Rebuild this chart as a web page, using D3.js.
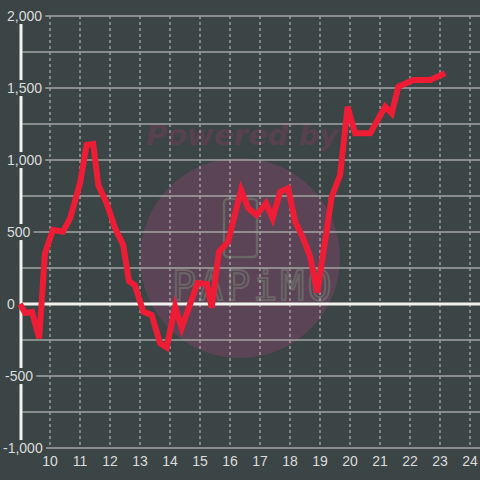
<!DOCTYPE html>
<html>
<head>
<meta charset="utf-8">
<script src="https://cdn.jsdelivr.net/npm/d3@7"></script>
<style>
  html, body { margin: 0; padding: 0; background: #3b4545; }
  svg { display: block; font-family: "Liberation Sans", Arial, sans-serif; }
</style>
</head>
<body>
<div id="chart"></div>
<script>
// hour of day (x) and running value (y)
var hours = [9.0, 9.17, 9.4, 9.64, 9.83, 10.1, 10.43, 10.67, 11.0, 11.22, 11.44, 11.61,
             11.89, 12.17, 12.44, 12.63, 12.83, 13.11, 13.39, 13.67, 13.89, 14.17, 14.39,
             14.92, 15.23, 15.39, 15.63, 15.93, 16.37, 16.61, 16.89, 17.2, 17.42, 17.67,
             17.94, 18.17, 18.44, 18.67, 18.91, 19.39, 19.67, 19.92, 20.17, 20.67, 21.17,
             21.39, 21.61, 22.11, 22.67, 23.17];
var values = [0, -62, -55, -238, 352, 514, 502, 595, 838, 1104, 1111, 826,
              699, 526, 410, 160, 130, -53, -76, -273, -301, -19, -165,
              144, 139, -25, 363, 430, 792, 664, 618, 699, 595, 780,
              803, 572, 456, 329, 80, 745, 896, 1370, 1185, 1185, 1370,
              1324, 1509, 1556, 1556, 1602];
var xTicks = [10, 11, 12, 13, 14, 15, 16, 17, 18, 19, 20, 21, 22, 23, 24];
var yTicks = [-1000, -750, -500, -250, 0, 250, 500, 750, 1000, 1250, 1500, 1750, 2000];
var yLabels = [-1000, -500, 0, 500, 1000, 1500, 2000];

var width = 480, height = 480;
var bg = "#3b4545";

var svg = d3.select("#chart").append("svg")
    .attr("width", width)
    .attr("height", height);

svg.append("rect").attr("width", width).attr("height", height).attr("fill", bg);

var x = d3.scaleLinear().domain([9, 24.333]).range([20, 480]);
var y = d3.scaleLinear().domain([-1000, 2000]).range([448, 16]);

// watermark
var wm = svg.append("g");
wm.append("circle")
    .attr("cx", 240).attr("cy", 258).attr("r", 100)
    .attr("fill", "#5a4455");
wm.append("text")
    .attr("x", 242).attr("y", 145)
    .attr("text-anchor", "middle")
    .attr("font-size", 29).attr("font-weight", "bold").attr("font-style", "italic")
    .attr("font-family", "DejaVu Sans, sans-serif")
    .attr("fill", "#58414f")
    .text("Powered by");
wm.append("rect")
    .attr("x", 224).attr("y", 199).attr("width", 33).attr("height", 58).attr("rx", 4)
    .attr("fill", "none").attr("stroke", "#6a6666").attr("stroke-width", 2.5);
wm.append("text")
    .attr("x", 172).attr("y", 300)
    .attr("font-size", 40).attr("letter-spacing", 3)
    .attr("font-family", "DejaVu Sans Mono, monospace")
    .attr("fill", "none").attr("stroke", "#6a6666").attr("stroke-width", 2)
    .text("PAPiMO");

// vertical dashed grid
svg.append("g").selectAll("line")
    .data(xTicks)
    .join("line")
    .attr("x1", d => x(d)).attr("x2", d => x(d))
    .attr("y1", y(2000)).attr("y2", y(-1000))
    .attr("stroke", "#c8c8c8").attr("stroke-width", 1)
    .attr("stroke-dasharray", "3,3");

// horizontal grid
svg.append("g").selectAll("line")
    .data(yTicks.filter(d => d !== 0))
    .join("line")
    .attr("x1", x(9)).attr("x2", width)
    .attr("y1", d => y(d)).attr("y2", d => y(d))
    .attr("stroke", "#a5a5a5").attr("stroke-width", 1.5);

// y axis and zero line
svg.append("line")
    .attr("x1", x(9) + 1).attr("x2", x(9) + 1)
    .attr("y1", y(2000)).attr("y2", y(-1000))
    .attr("stroke", "#f2f2ee").attr("stroke-width", 3);
svg.append("line")
    .attr("x1", x(9)).attr("x2", width)
    .attr("y1", y(0)).attr("y2", y(0))
    .attr("stroke", "#f2f2ee").attr("stroke-width", 3);

// data line
var line = d3.line()
    .x((d, i) => x(hours[i]))
    .y(d => y(d));
svg.append("path")
    .datum(values)
    .attr("d", line)
    .attr("fill", "none")
    .attr("stroke", "#ee1d35")
    .attr("stroke-width", 6)
    .attr("stroke-linejoin", "miter");

// y labels with background boxes
var fmt = d3.format(",");
var yl = svg.append("g").selectAll("g")
    .data(yLabels)
    .join("g");
yl.append("rect");
yl.append("text")
    .attr("x", d => d < 0 ? (d <= -1000 ? 3 : 5) : 7)
    .attr("y", d => y(d))
    .attr("dy", "0.36em")
    .attr("font-size", 14)
    .attr("fill", "#dcdcdc")
    .text(d => fmt(d).replace("−", "-"));
yl.each(function() {
  var g = d3.select(this);
  var b = g.select("text").node().getBBox();
  g.select("rect")
    .attr("x", b.x - 1).attr("y", b.y)
    .attr("width", b.width + 4).attr("height", b.height)
    .attr("fill", bg);
});

// x labels
svg.append("g").selectAll("text")
    .data(xTicks)
    .join("text")
    .attr("x", d => x(d))
    .attr("y", 466)
    .attr("text-anchor", "middle")
    .attr("font-size", 14)
    .attr("fill", "#dcdcdc")
    .text(d => d);
</script>
</body>
</html>
